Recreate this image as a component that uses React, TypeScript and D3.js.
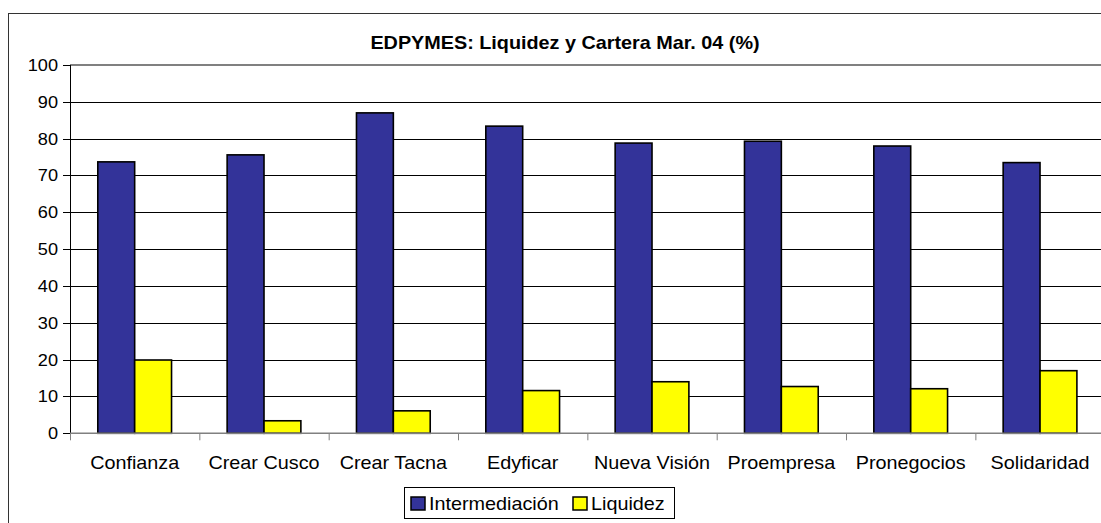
import React from "react";
import * as d3 from "d3";

const categories = ["Confianza", "Crear Cusco", "Crear Tacna", "Edyficar", "Nueva Visión", "Proempresa", "Pronegocios", "Solidaridad"];
const seriesNames = ["Intermediación", "Liquidez"];
const intermediacion = [73.7, 75.6, 87.0, 83.4, 78.8, 79.3, 78.0, 73.5];
const liquidez = [19.9, 3.4, 6.1, 11.6, 14.0, 12.7, 12.1, 17.0];
const seriesColors = ["#333399", "#FFFF00"];
const yTicks = [0, 10, 20, 30, 40, 50, 60, 70, 80, 90, 100];
const title = "EDPYMES: Liquidez y Cartera Mar. 04 (%)";

const W = 1101;
const H = 523;
const SX = 1.1;
const FONT = "'Liberation Sans', Arial, Helvetica, sans-serif";

function SText({ x, y, anchor = "middle", size, weight = "normal", children }: any) {
  return (
    <text
      transform={`translate(${x},${y}) scale(${SX},1)`}
      textAnchor={anchor}
      fontSize={size}
      fontWeight={weight}
      fontFamily={FONT}
      fill="#000"
    >
      {children}
    </text>
  );
}

export default function App() {
  const left = 70;
  const right = 1104.7;
  const top = 65;
  const bottom = 433.3;

  const x0 = d3.scaleBand<string>().domain(categories).range([left, right]).paddingInner(0).paddingOuter(0);
  const x1 = d3.scaleBand<string>().domain(seriesNames).range([0, x0.bandwidth()]).paddingInner(0).paddingOuter(0.754);
  const y = d3.scaleLinear().domain([0, 100]).range([bottom, top]);

  const data = [intermediacion, liquidez];

  return (
    <svg width={W} height={H} style={{ position: "absolute", left: 0, top: 0, background: "#fff" }}>
      <rect x={0} y={0} width={W} height={H} fill="#fff" />
      <rect x={8.5} y={13.5} width={W + 10} height={H + 10} fill="none" stroke="#333" strokeWidth={1} />
      <SText x={565} y={49} size={18} weight="bold">{title}</SText>

      {/* gridlines */}
      {yTicks.filter((t) => t !== 0 && t !== 100).map((t) => (
        <line key={t} x1={left} x2={right} y1={Math.round(y(t)) + 0.5} y2={Math.round(y(t)) + 0.5} stroke="#000" strokeWidth={1} />
      ))}
      <line x1={left} x2={right} y1={top} y2={top} stroke="#808080" strokeWidth={2} />

      {/* bars */}
      {categories.map((c, i) => (
        <g key={c} transform={`translate(${x0(c)},0)`}>
          {seriesNames.map((s, j) => (
            <rect
              key={s}
              x={x1(s)!}
              y={y(data[j][i])}
              width={x1.bandwidth()}
              height={bottom - y(data[j][i])}
              fill={seriesColors[j]}
              stroke="#000"
              strokeWidth={1.6}
            />
          ))}
        </g>
      ))}

      {/* y axis */}
      <line x1={left + 0.5} x2={left + 0.5} y1={top} y2={bottom} stroke="#000" strokeWidth={1} />
      {yTicks.map((t) => (
        <g key={t}>
          <line x1={left - 7} x2={left} y1={Math.round(y(t)) + 0.5} y2={Math.round(y(t)) + 0.5} stroke="#000" strokeWidth={1} />
          <SText x={left - 12} y={y(t) + 6} anchor="end" size={16.5}>{t}</SText>
        </g>
      ))}

      {/* x axis */}
      <line x1={left} x2={right} y1={bottom} y2={bottom} stroke="#808080" strokeWidth={1.5} />
      {categories.map((c) => (
        <line key={"t" + c} x1={x0(c)! + 0.5} x2={x0(c)! + 0.5} y1={bottom} y2={bottom + 7} stroke="#808080" strokeWidth={1} />
      ))}
      {categories.map((c) => (
        <SText key={"l" + c} x={x0(c)! + x0.bandwidth() / 2} y={469} size={18}>{c}</SText>
      ))}

      {/* legend */}
      <rect x={404.5} y={487.5} width={270} height={31} fill="#fff" stroke="#000" strokeWidth={1} />
      <rect x={411} y={497} width={14} height={13} fill={seriesColors[0]} stroke="#000" strokeWidth={1.5} />
      <SText x={429} y={510} anchor="start" size={18}>{seriesNames[0]}</SText>
      <rect x={573} y={497} width={14} height={13} fill={seriesColors[1]} stroke="#000" strokeWidth={1.5} />
      <SText x={591} y={510} anchor="start" size={18}>{seriesNames[1]}</SText>
    </svg>
  );
}
